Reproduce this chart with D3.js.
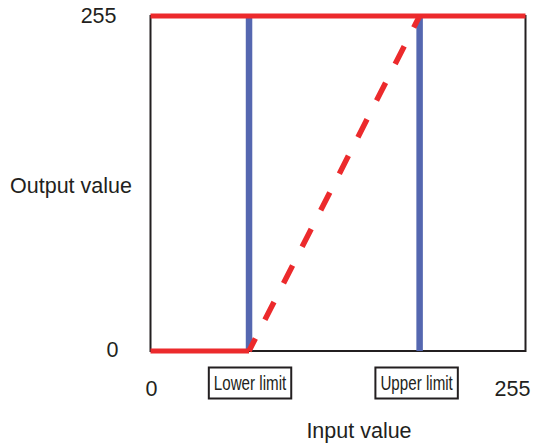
<!DOCTYPE html>
<html>
<head>
<meta charset="utf-8">
<script src="https://cdn.jsdelivr.net/npm/d3@7"></script>
<style>
  body { margin: 0; background: #fff; }
  text { font-family: "Liberation Sans", Arial, sans-serif; fill: #231f20; }
</style>
</head>
<body>
<svg width="536" height="443"></svg>
<script>
// values
var inputRange = [0, 255];
var outputRange = [0, 255];
var limits = [67, 183];              // lower, upper
var limitLabels = ['Lower limit', 'Upper limit'];
var xTickLabels = ['0', '255'];
var yTickLabels = ['0', '255'];

var width = 536, height = 443;
var margin = {left: 150.5, right: 10.5, top: 16, bottom: 92};
var fs = 21.5;

var svg = d3.select('svg');

var x = d3.scaleLinear().domain(inputRange).range([margin.left, width - margin.right]);
var y = d3.scaleLinear().domain(outputRange).range([height - margin.bottom, margin.top]);

var red = '#ec2a2c', blue = '#5567b0';

// frame
svg.append('rect')
  .attr('x', x(0)).attr('y', y(255))
  .attr('width', x(255) - x(0)).attr('height', y(0) - y(255))
  .attr('fill', 'none').attr('stroke', '#231f20').attr('stroke-width', 2);

// limit lines
svg.selectAll('.limit')
  .data(limits)
  .enter().append('line')
    .attr('class', 'limit')
    .attr('x1', d => x(d)).attr('x2', d => x(d))
    .attr('y1', y(255)).attr('y2', y(0))
    .attr('stroke', blue).attr('stroke-width', 6.5);

// transfer function: 0 below lower, ramp, 255 above upper
var line = d3.line().x(d => x(d[0])).y(d => y(d[1]));

svg.append('path')
  .attr('d', line([[0, 0], [limits[0], 0]]))
  .attr('stroke', red).attr('stroke-width', 5).attr('fill', 'none');

svg.append('path')
  .attr('d', line([[0, 255], [255, 255]]))
  .attr('stroke', red).attr('stroke-width', 5).attr('fill', 'none');

svg.append('path')
  .attr('d', line([[limits[0], 0], [limits[1], 255]]))
  .attr('stroke', red).attr('stroke-width', 5.5).attr('fill', 'none')
  .attr('stroke-dasharray', '20,21')
  .attr('stroke-dashoffset', 6);

// tick labels
svg.append('text').attr('x', x(0) + 1).attr('y', 396)
  .attr('font-size', fs).attr('text-anchor', 'middle').text(xTickLabels[0]);
svg.append('text').attr('x', x(255) - 13).attr('y', 396)
  .attr('font-size', fs).attr('text-anchor', 'middle').text(xTickLabels[1]);

svg.append('text').attr('x', x(0) - 34).attr('y', y(255) + 7)
  .attr('font-size', fs).attr('text-anchor', 'end').text(yTickLabels[1]);
svg.append('text').attr('x', x(0) - 32).attr('y', y(0) + 6)
  .attr('font-size', fs).attr('text-anchor', 'end').text(yTickLabels[0]);

// axis titles
svg.append('text').attr('x', 71).attr('y', 193)
  .attr('font-size', fs).attr('text-anchor', 'middle').text('Output value');
svg.append('text').attr('x', 359).attr('y', 438)
  .attr('font-size', fs).attr('text-anchor', 'middle').text('Input value');

// limit label boxes (condensed text)
var sx = 0.74;
var boxes = svg.selectAll('.lab')
  .data(limits)
  .enter().append('g')
    .attr('class', 'lab')
    .attr('transform', (d, i) => `translate(${x(d) + (i ? -3 : 1)}, 383)`);

boxes.append('text')
  .attr('text-anchor', 'middle').attr('dy', '0.36em')
  .attr('font-size', 20.5)
  .attr('transform', `scale(${sx},1)`)
  .text((d, i) => limitLabels[i]);

boxes.each(function() {
  var g = d3.select(this);
  var w = g.select('text').node().getBBox().width * sx;
  g.insert('rect', 'text')
    .attr('x', -w / 2 - 5).attr('y', -15.5)
    .attr('width', w + 10).attr('height', 31)
    .attr('fill', '#fff').attr('stroke', '#231f20').attr('stroke-width', 2);
});
</script>
</body>
</html>
